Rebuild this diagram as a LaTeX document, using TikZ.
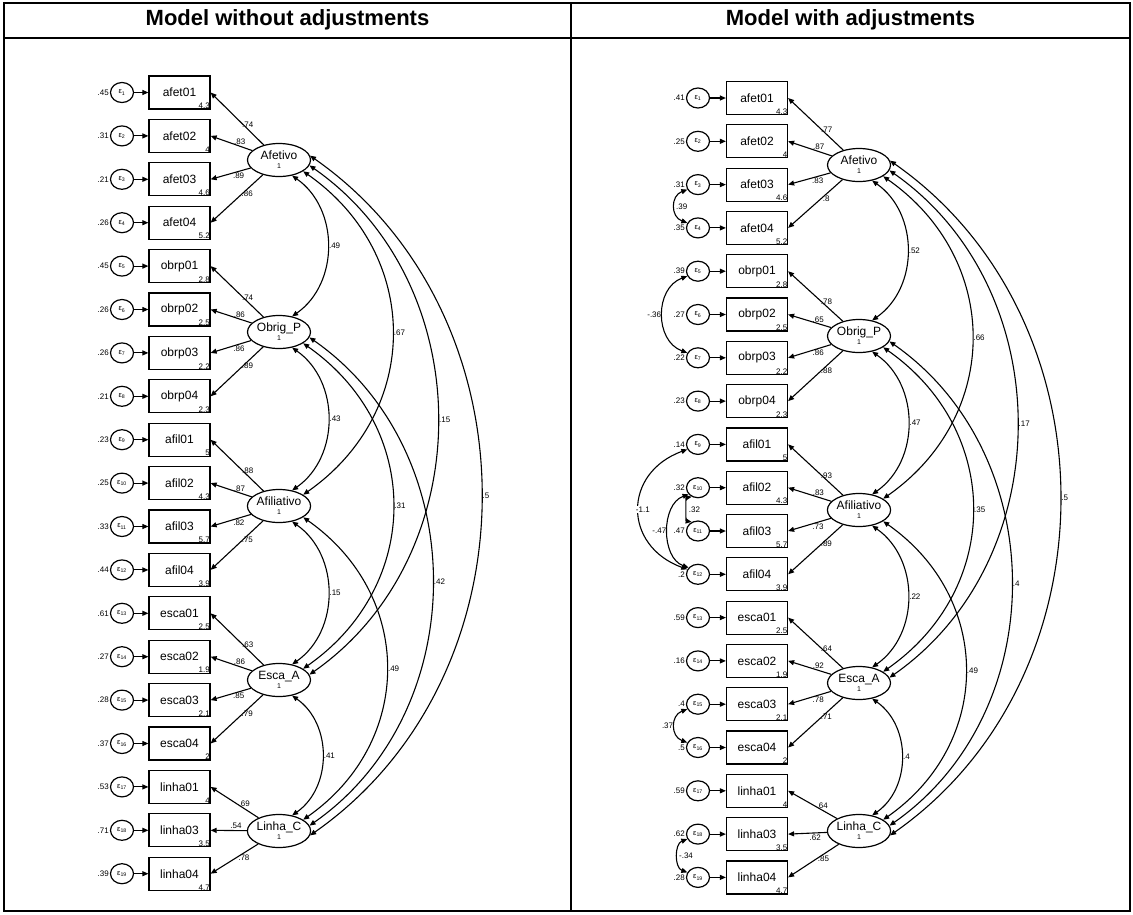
\documentclass[tikz,border=0pt]{standalone}
\usepackage{fontspec}
\setmainfont{Liberation Sans}
\usetikzlibrary{positioning, arrows.meta, shapes.geometric}
\tikzset{
    box_obs/.style={rectangle, draw, line width=1.2pt, minimum width=61pt, minimum height=33pt, inner sep=0pt, font=\fontsize{12}{12}\selectfont},
    elipse_lat/.style={ellipse, draw, line width=1.2pt, minimum width=63pt, minimum height=33pt, inner sep=0pt, align=center, font=\fontsize{12}{12}\selectfont},
    circ_err/.style={ellipse, draw, line width=1.2pt, minimum width=23pt, minimum height=20pt, inner sep=0pt, font=\fontsize{7.5}{7.5}\selectfont},
    etiqueta/.style={font=\fontsize{8}{8}\selectfont, inner sep=1pt},
    intercepto/.style={font=\fontsize{8}{8}\selectfont, inner sep=0.6pt, anchor=south east},
    titulo/.style={font=\fontsize{22}{24}\selectfont\bfseries},
    flecha/.style={->, line width=1.1pt},
    flecha_cov/.style={<->, line width=1.1pt},
    arco/.style={out=-35, in=35, looseness=#1},
    marco/.style={line width=1.6pt}
}

\begin{document}
\begin{tikzpicture}[x=1pt, y=1pt, >={Triangle[length=6pt, width=5pt]}]

    \useasboundingbox (0,0) rectangle (1133,-914);

    % Tabla
    \draw[marco] (4,-3) rectangle (1130,-911);
    \draw[marco] (4,-38) -- (1130,-38);
    \draw[marco] (571,-3) -- (571,-911);
    \node[titulo] (t_izq) at (287.5,-20) {Model without adjustments};
    \node[titulo] (t_der) at (850.5,-20) {Model with adjustments};

    % --- MODELO SIN AJUSTES ---
    \node[elipse_lat] (lafe) at (279,-160) {Afetivo\\[-3pt]{\fontsize{7}{7}\selectfont 1}};
    \node[elipse_lat] (lobr) at (279,-332) {Obrig\_P\\[-3pt]{\fontsize{7}{7}\selectfont 1}};
    \node[elipse_lat] (lafi) at (279,-506) {Afiliativo\\[-3pt]{\fontsize{7}{7}\selectfont 1}};
    \node[elipse_lat] (lesc) at (279,-680) {Esca\_A\\[-3pt]{\fontsize{7}{7}\selectfont 1}};
    \node[elipse_lat] (llin) at (279,-831) {Linha\_C\\[-3pt]{\fontsize{7}{7}\selectfont 1}};

    \foreach \i/\nm/\ic/\ev/\lat/\ld/\pl in {
        1/afet01/4.3/.45/lafe/.74/above, 2/afet02/4/.31/lafe/.83/above,
        3/afet03/4.6/.21/lafe/.89/below, 4/afet04/5.2/.26/lafe/.86/below,
        5/obrp01/2.8/.45/lobr/.74/above, 6/obrp02/2.5/.26/lobr/.86/above,
        7/obrp03/2.2/.26/lobr/.86/below, 8/obrp04/2.3/.21/lobr/.89/below,
        9/afil01/5/.23/lafi/.88/above, 10/afil02/4.3/.25/lafi/.87/above,
        11/afil03/5.7/.33/lafi/.82/below, 12/afil04/3.9/.44/lafi/.75/below,
        13/esca01/2.5/.61/lesc/.63/above, 14/esca02/1.9/.27/lesc/.86/above,
        15/esca03/2.1/.28/lesc/.85/below, 16/esca04/2/.37/lesc/.79/below,
        17/linha01/4/.53/llin/.69/above, 18/linha03/3.5/.71/llin/.54/above,
        19/linha04/4.7/.39/llin/.78/below}{
        \node[box_obs] (lx\i) at (179.5,-49.1-43.4*\i) {\nm};
        \node[circ_err] (le\i) at (122,-49.1-43.4*\i) {ε\textsubscript{\i}};
        \node[etiqueta, anchor=east] (lv\i) at (le\i.west) {\ev};
        \node[intercepto] (li\i) at (lx\i.south east) {\ic};
        \draw[flecha] (le\i) -- (lx\i);
        \draw[flecha] (\lat) -- (lx\i.east) node[etiqueta, pos=.3, \pl] {\ld};
    }

    % Covarianzas entre factores
    \draw[flecha_cov] (lafe.-50) to[arco=1.05] node[etiqueta, right] {.49} (lobr.50);
    \draw[flecha_cov] (lobr.-50) to[arco=1.05] node[etiqueta, right] {.43} (lafi.50);
    \draw[flecha_cov] (lafi.-50) to[arco=1.05] node[etiqueta, right] {.15} (lesc.50);
    \draw[flecha_cov] (lesc.-50) to[arco=1.05] node[etiqueta, right] {.41} (llin.50);
    \draw[flecha_cov] (lafe.-25) to[arco=1.15] node[etiqueta, right] {.67} (lafi.25);
    \draw[flecha_cov] (lobr.-25) to[arco=1.15] node[etiqueta, right] {.31} (lesc.25);
    \draw[flecha_cov] (lafi.-25) to[arco=1.15] node[etiqueta, right] {.49} (llin.25);
    \draw[flecha_cov] (lafe.-10) to[arco=1.05] node[etiqueta, right] {.15} (lesc.10);
    \draw[flecha_cov] (lobr.-10) to[arco=1.05] node[etiqueta, right] {.42} (llin.10);
    \draw[flecha_cov] (lafe.8) to[arco=1.05] node[etiqueta, right] {.5} (llin.-8);

    % --- MODELO CON AJUSTES ---
    \node[elipse_lat] (rafe) at (859,-165) {Afetivo\\[-3pt]{\fontsize{7}{7}\selectfont 1}};
    \node[elipse_lat] (robr) at (859,-336) {Obrig\_P\\[-3pt]{\fontsize{7}{7}\selectfont 1}};
    \node[elipse_lat] (rafi) at (859,-510) {Afiliativo\\[-3pt]{\fontsize{7}{7}\selectfont 1}};
    \node[elipse_lat] (resc) at (859,-683) {Esca\_A\\[-3pt]{\fontsize{7}{7}\selectfont 1}};
    \node[elipse_lat] (rlin) at (859,-831) {Linha\_C\\[-3pt]{\fontsize{7}{7}\selectfont 1}};

    \foreach \i/\nm/\ic/\ev/\lat/\ld/\pl in {
        1/afet01/4.3/.41/rafe/.77/above, 2/afet02/4/.25/rafe/.87/above,
        3/afet03/4.6/.31/rafe/.83/below, 4/afet04/5.2/.35/rafe/.8/below,
        5/obrp01/2.8/.39/robr/.78/above, 6/obrp02/2.5/.27/robr/.65/above,
        7/obrp03/2.2/.22/robr/.86/below, 8/obrp04/2.3/.23/robr/.88/below,
        9/afil01/5/.14/rafi/.93/above, 10/afil02/4.3/.32/rafi/.83/above,
        11/afil03/5.7/.47/rafi/.73/below, 12/afil04/3.9/.2/rafi/.89/below,
        13/esca01/2.5/.59/resc/.64/above, 14/esca02/1.9/.16/resc/.92/above,
        15/esca03/2.1/.4/resc/.78/below, 16/esca04/2/.5/resc/.71/below,
        17/linha01/4/.59/rlin/.64/above, 18/linha03/3.5/.62/rlin/.62/below,
        19/linha04/4.7/.28/rlin/.85/below}{
        \node[box_obs] (rx\i) at (757,-54.7-43.3*\i) {\nm};
        \node[circ_err] (re\i) at (698,-54.7-43.3*\i) {ε\textsubscript{\i}};
        \node[etiqueta, anchor=east] (rv\i) at (re\i.west) {\ev};
        \node[intercepto] (ri\i) at (rx\i.south east) {\ic};
        \draw[flecha] (re\i) -- (rx\i);
        \draw[flecha] (\lat) -- (rx\i.east) node[etiqueta, pos=.3, \pl] {\ld};
    }

    % Covarianzas entre factores
    \draw[flecha_cov] (rafe.-50) to[arco=1.05] node[etiqueta, right] {.52} (robr.50);
    \draw[flecha_cov] (robr.-50) to[arco=1.05] node[etiqueta, right] {.47} (rafi.50);
    \draw[flecha_cov] (rafi.-50) to[arco=1.05] node[etiqueta, right] {.22} (resc.50);
    \draw[flecha_cov] (resc.-50) to[arco=1.05] node[etiqueta, right] {.4} (rlin.50);
    \draw[flecha_cov] (rafe.-25) to[arco=1.15] node[etiqueta, right] {.66} (rafi.25);
    \draw[flecha_cov] (robr.-25) to[arco=1.15] node[etiqueta, right] {.35} (resc.25);
    \draw[flecha_cov] (rafi.-25) to[arco=1.15] node[etiqueta, right] {.49} (rlin.25);
    \draw[flecha_cov] (rafe.-10) to[arco=1.05] node[etiqueta, right] {.17} (resc.10);
    \draw[flecha_cov] (robr.-10) to[arco=1.05] node[etiqueta, right] {.4} (rlin.10);
    \draw[flecha_cov] (rafe.8) to[arco=1.05] node[etiqueta, right] {.5} (rlin.-8);

    % Covarianzas entre errores
    \draw[flecha_cov] (re3.205) to[out=200, in=160, looseness=1.38] node[etiqueta, right=0pt] {.39} (re4.155);
    \draw[flecha_cov] (re5.205) to[out=200, in=160, looseness=1.17] node[etiqueta, left] {-.36} (re7.155);
    \draw[flecha_cov] (re9.205) to[out=200, in=160, looseness=1.47] node[etiqueta, right=-4pt, fill=white, inner sep=0.5pt] {-1.1} (re12.155);
    \draw[flecha_cov] (re10.215) to[out=200, in=160, looseness=1.03] node[etiqueta, left] {-.47} (re12.145);
    \draw[flecha_cov] (re10.235) to[out=190, in=170, looseness=0.6] node[etiqueta, right] {.32} (re11.125);
    \draw[flecha_cov] (re15.205) to[out=200, in=160, looseness=1.38] node[etiqueta, left] {.37} (re16.155);
    \draw[flecha_cov] (re18.205) to[out=200, in=160, looseness=1.06] node[etiqueta, right] {-.34} (re19.155);

\end{tikzpicture}
\end{document}
